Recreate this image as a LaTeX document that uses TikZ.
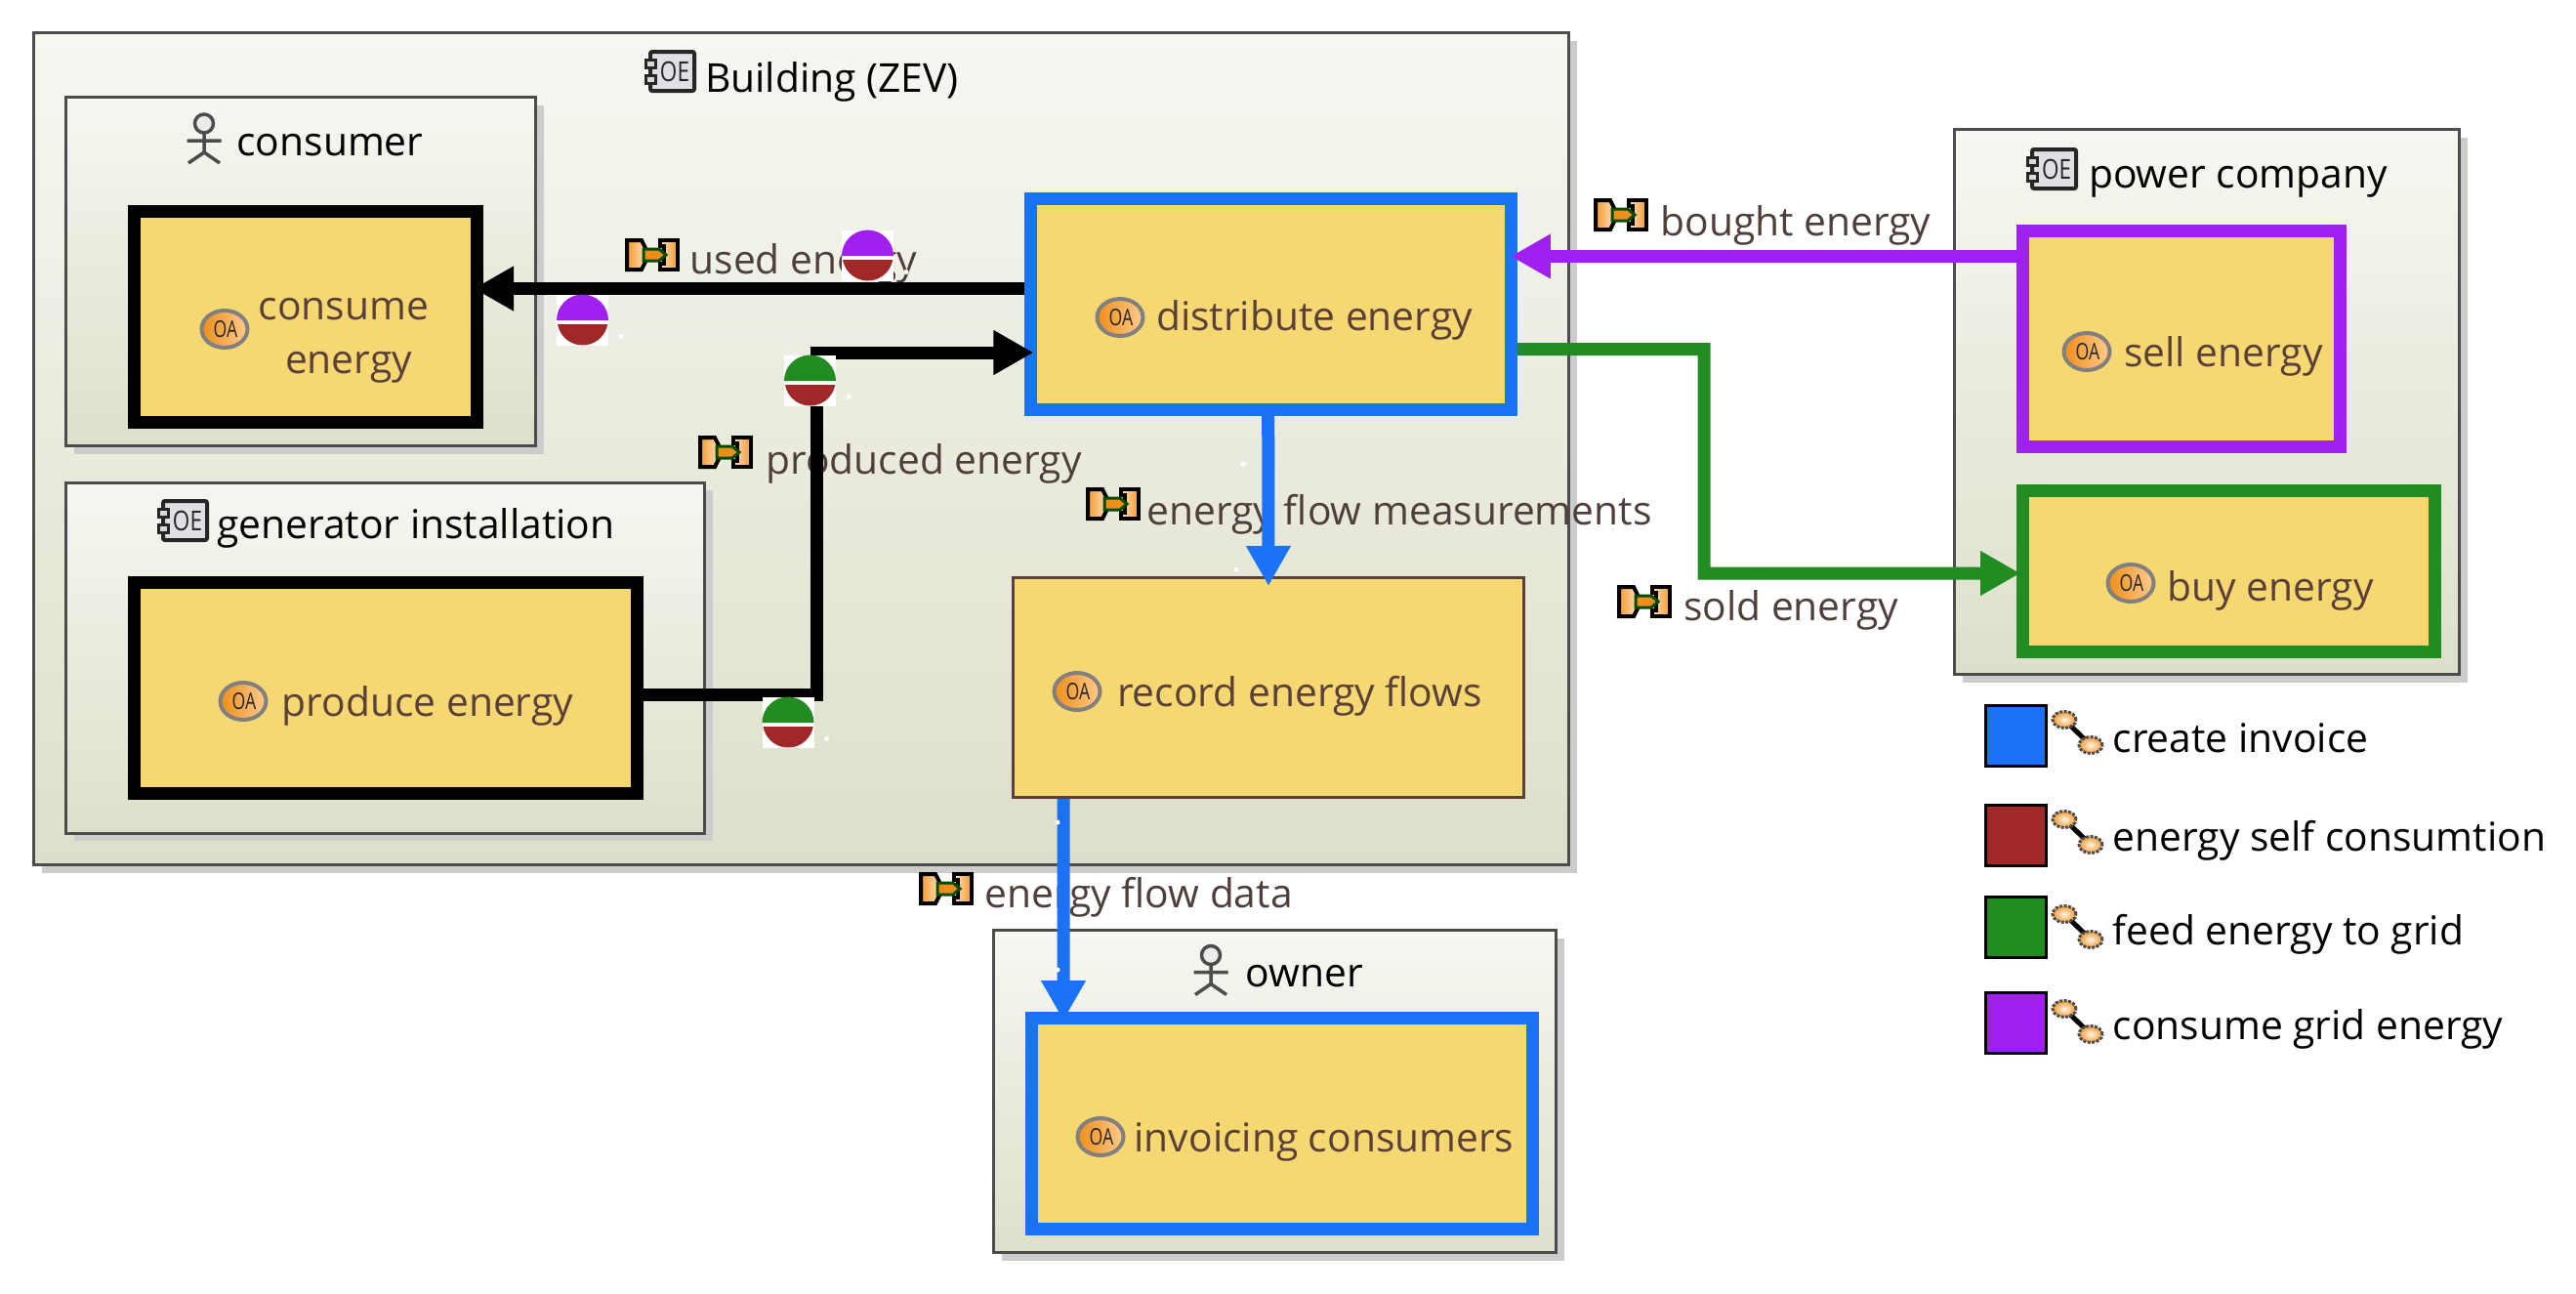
\documentclass[tikz,border=0pt]{standalone}
\usepackage{fontspec}
\setmainfont{Open Sans}
\usetikzlibrary{arrows.meta,shadows}
\definecolor{funcfill}{HTML}{F5D872}
\definecolor{functext}{HTML}{5A4038}
\definecolor{flowtext}{HTML}{4F3F3C}
\definecolor{boxtop}{HTML}{F6F7F1}
\definecolor{boxbottom}{HTML}{DEDFCA}
\definecolor{chainblue}{HTML}{1A72F7}
\definecolor{chainred}{HTML}{A02828}
\definecolor{chaingreen}{HTML}{228B22}
\definecolor{chainpurple}{HTML}{A020F0}
\definecolor{iconorange}{HTML}{EE8E1A}
\definecolor{iconlight}{HTML}{FFCB8E}
\begin{document}
\begin{tikzpicture}
          [font=\fontsize{11.6}{15.6}\selectfont,
          container/.style={shape=rectangle,draw=black!70,line width=.03cm,top color=boxtop,bottom color=boxbottom,drop shadow={shadow xshift=.08cm,shadow yshift=-.08cm,fill=black!20,opacity=1}},
          funcbox/.style={shape=rectangle,draw=black,fill=funcfill,line width=.13cm},
          title/.style={anchor=base,text=black,inner sep=0pt},
          funclab/.style={anchor=base,text=functext,inner sep=0pt},
          flowlab/.style={anchor=base,text=flowtext,inner sep=0pt},
          legendlab/.style={anchor=base west,text=black,inner sep=0pt},
          swatch/.style={shape=rectangle,draw=black,line width=.03cm,minimum width=.62cm,minimum height=.62cm},
          arc/.style={-{Triangle[length=.41cm,width=.43cm]},line width=.13cm,line join=miter},
          pics/compicon/.style={code={
            \draw[black!85,fill=blue!12!black!12,line width=.04cm,rounded corners=.02cm] (-.2,-.2) rectangle (.25,.2);
            \draw[black!85,fill=black!15,line width=.03cm] (-.25,.04) rectangle (-.15,.12);
            \draw[black!85,fill=black!15,line width=.03cm] (-.25,-.12) rectangle (-.15,-.04);
            \node[inner sep=0pt,xscale=.8,font=\fontsize{8}{8}\selectfont,text=black!85] at (.05,0) {OE};}},
          pics/oaicon/.style={code={
            \draw[black!50,left color=iconorange,right color=iconlight,line width=.04cm] (0,0) ellipse [x radius=.235,y radius=.19];
            \node[inner sep=0pt,xscale=.75,font=\fontsize{6.7}{6.7}\selectfont,text=black!85] at (.01,0) {OA};}},
          pics/exicon/.style={code={
            \draw[black,left color=iconorange!80!iconlight,right color=iconlight!60!white,line width=.04cm] (-.26,.15) -- (-.11,.15) -- (-.07,.07) -- (-.07,-.07) -- (-.11,-.15) -- (-.26,-.15) -- cycle;
            \draw[black,left color=iconlight!60!white,right color=iconorange!80!iconlight,line width=.04cm] (.26,.15) -- (.08,.15) -- (.08,.09) -- (.12,.09) -- (.12,-.09) -- (.08,-.09) -- (.08,-.15) -- (.26,-.15) -- cycle;
            \draw[black!70!green,fill=iconorange,line width=.03cm] (-.09,.06) -- (.07,.06) -- (.14,0) -- (.07,-.06) -- (-.09,-.06) -- cycle;}},
          pics/actoricon/.style={code={
            \draw[black!70,line width=.035cm,fill=black!8] (0,.145) circle (.095);
            \draw[black!70,line width=.035cm] (0,.05) -- (0,-.15) (-.175,-.03) -- (.175,-.03) (-.16,-.26) -- (0,-.15) -- (.16,-.26);}},
          pics/linkicon/.style={code={
            \draw[black,line width=.05cm] (-.13,.13) -- (.14,-.13);
            \draw[black!70,dash pattern=on .03cm off .015cm,inner color=white!80!iconlight,outer color=iconorange!80!iconlight,line width=.03cm] (-.13,.13) ellipse [x radius=.12,y radius=.085];
            \draw[black!70,dash pattern=on .03cm off .015cm,inner color=white!80!iconlight,outer color=iconorange!80!iconlight,line width=.03cm] (.14,-.13) ellipse [x radius=.12,y radius=.085];}},
          pics/ball/.style={code={
            \fill[white] (-.265,-.26) rectangle (.265,.26);
            \fill[#1] (-.265,0) arc [start angle=180,end angle=0,radius=.265] -- cycle;
            \fill[chainred] (-.255,-.04) arc [start angle=190,end angle=350,radius=.26] -- cycle;
            \fill[white] (.395,-.165) circle (.025);}}]

            \useasboundingbox (0,0) rectangle (26.38,-13.24);

            % containers
            \node (building) [container,minimum width=15.72cm,minimum height=8.52cm] at (8.205,-4.595) {};
            \node (consumer) [container,minimum width=4.81cm,minimum height=3.57cm] at (3.08,-2.78) {};
            \node (generator) [container,minimum width=6.54cm,minimum height=3.59cm] at (3.945,-6.735) {};
            \node (owner) [container,minimum width=5.76cm,minimum height=3.30cm] at (13.055,-11.175) {};
            \node (power) [container,minimum width=5.17cm,minimum height=5.58cm] at (22.60,-4.115) {};

            % functions
            \node (consume) [funcbox,minimum width=3.51cm,minimum height=2.16cm] at (3.13,-3.245) {};
            \node (produce) [funcbox,minimum width=5.15cm,minimum height=2.16cm] at (3.95,-7.045) {};
            \node (distribute) [funcbox,draw=chainblue,minimum width=4.915cm,minimum height=2.16cm] at (13.017,-3.115) {};
            \node (record) [funcbox,draw=functext,line width=.03cm,minimum width=5.23cm,minimum height=2.25cm] at (12.99,-7.04) {};
            \node (invoicing) [funcbox,draw=chainblue,minimum width=5.13cm,minimum height=2.16cm] at (13.13,-11.505) {};
            \node (sell) [funcbox,draw=chainpurple,minimum width=3.245cm,minimum height=2.21cm] at (22.34,-3.47) {};
            \node (buy) [funcbox,draw=chaingreen,minimum width=4.22cm,minimum height=1.65cm] at (22.825,-5.85) {};

            % titles
            \node (buildinglab) [title] at (8.52,-.94) {Building (ZEV)};
            \node (consumerlab) [title] at (3.38,-1.59) {consumer};
            \node (generatorlab) [title] at (4.26,-5.51) {generator installation};
            \node (ownerlab) [title] at (13.36,-10.10) {owner};
            \node (powerlab) [title] at (22.92,-1.92) {power company};

            % function names
            \node (consumelab) [funclab,anchor=center,align=center] at (3.52,-3.49) {consume\\\hspace*{.1cm}energy};
            \node (producelab) [funclab] at (4.38,-7.33) {produce energy};
            \node (distributelab) [funclab] at (13.46,-3.38) {distribute energy};
            \node (recordlab) [funclab] at (13.31,-7.23) {record energy flows};
            \node (invoicinglab) [funclab] at (13.56,-11.79) {invoicing consumers};
            \node (selllab) [funclab] at (22.77,-3.75) {sell energy};
            \node (buylab) [funclab] at (23.25,-6.15) {buy energy};

            % exchanges
            \node (usedlab) [flowlab] at (8.23,-2.80) {used energy};
            \node (producedlab) [flowlab] at (9.46,-4.85) {produced energy};
            \node (measurelab) [flowlab] at (14.33,-5.37) {energy flow measurements};
            \node (datalab) [flowlab] at (11.66,-9.29) {energy flow data};
            \node (boughtlab) [flowlab] at (18.39,-2.41) {bought energy};
            \node (soldlab) [flowlab] at (18.34,-6.35) {sold energy};

            % icons
            \pic at (6.86,-.73) {compicon};
            \pic at (1.87,-5.33) {compicon};
            \pic at (21.01,-1.73) {compicon};
            \pic at (2.09,-1.41) {actoricon};
            \pic at (12.40,-9.925) {actoricon};
            \pic at (2.30,-3.37) {oaicon};
            \pic at (2.49,-7.18) {oaicon};
            \pic at (11.47,-3.25) {oaicon};
            \pic at (11.03,-7.08) {oaicon};
            \pic at (11.27,-11.64) {oaicon};
            \pic at (21.37,-3.60) {oaicon};
            \pic at (21.82,-5.97) {oaicon};
            \pic at (6.68,-2.61) {exicon};
            \pic at (7.43,-4.63) {exicon};
            \pic at (11.40,-5.16) {exicon};
            \pic at (9.69,-9.10) {exicon};
            \pic at (16.60,-2.20) {exicon};
            \pic at (16.84,-6.16) {exicon};

          \coordinate (producedbend) at (8.36,-3.61);
          \coordinate (soldbend) at (17.45,-3.575);

          \draw [arc] ([yshift=.16cm]distribute.west) to ([xshift=-.10cm,yshift=.29cm]consume.east);
          \draw [arc] ([yshift=-.065cm]produce.east) -| (producedbend) -- ([xshift=.09cm,yshift=-.495cm]distribute.west);
          \draw [arc,chainpurple] ([yshift=.845cm]sell.west) -- ([xshift=-.07cm,yshift=.49cm]distribute.east);
          \draw [arc,chaingreen] ([yshift=-.46cm]distribute.east) -- (soldbend) |- ([xshift=.04cm,yshift=-.02cm]buy.west);
          \draw [arc,chainblue] ([xshift=-.03cm]distribute.south) -- ([yshift=-.10cm]record.north);
          \draw [arc,chainblue] ([xshift=-2.10cm]record.south) -- ([xshift=-2.24cm,yshift=-.09cm]invoicing.north);

            % legend
            \node (createkey) [swatch,fill=chainblue] at (20.645,-7.535) {};
            \node (selfkey) [swatch,fill=chainred] at (20.645,-8.555) {};
            \node (feedkey) [swatch,fill=chaingreen] at (20.645,-9.495) {};
            \node (gridkey) [swatch,fill=chainpurple] at (20.645,-10.47) {};
            \pic at (21.27,-7.50) {linkicon};
            \pic at (21.27,-8.52) {linkicon};
            \pic at (21.27,-9.49) {linkicon};
            \pic at (21.27,-10.46) {linkicon};
            \node (createlab) [legendlab] at (21.63,-7.70) {create invoice};
            \node (selflab) [legendlab] at (21.63,-8.71) {energy self consumtion};
            \node (feedlab) [legendlab] at (21.63,-9.67) {feed energy to grid};
            \node (gridlab) [legendlab] at (21.63,-10.64) {consume grid energy};

            % chain markers
            \pic at (8.885,-2.62) {ball=chainpurple};
            \pic at (5.965,-3.28) {ball=chainpurple};
            \pic at (8.295,-3.90) {ball=chaingreen};
            \pic at (8.07,-7.40) {ball=chaingreen};
            \fill[white] (12.73,-4.75) circle (.025) (12.66,-5.83) circle (.025) (10.83,-8.42) circle (.025) (10.83,-9.93) circle (.025);

        \end{tikzpicture}
\end{document}
